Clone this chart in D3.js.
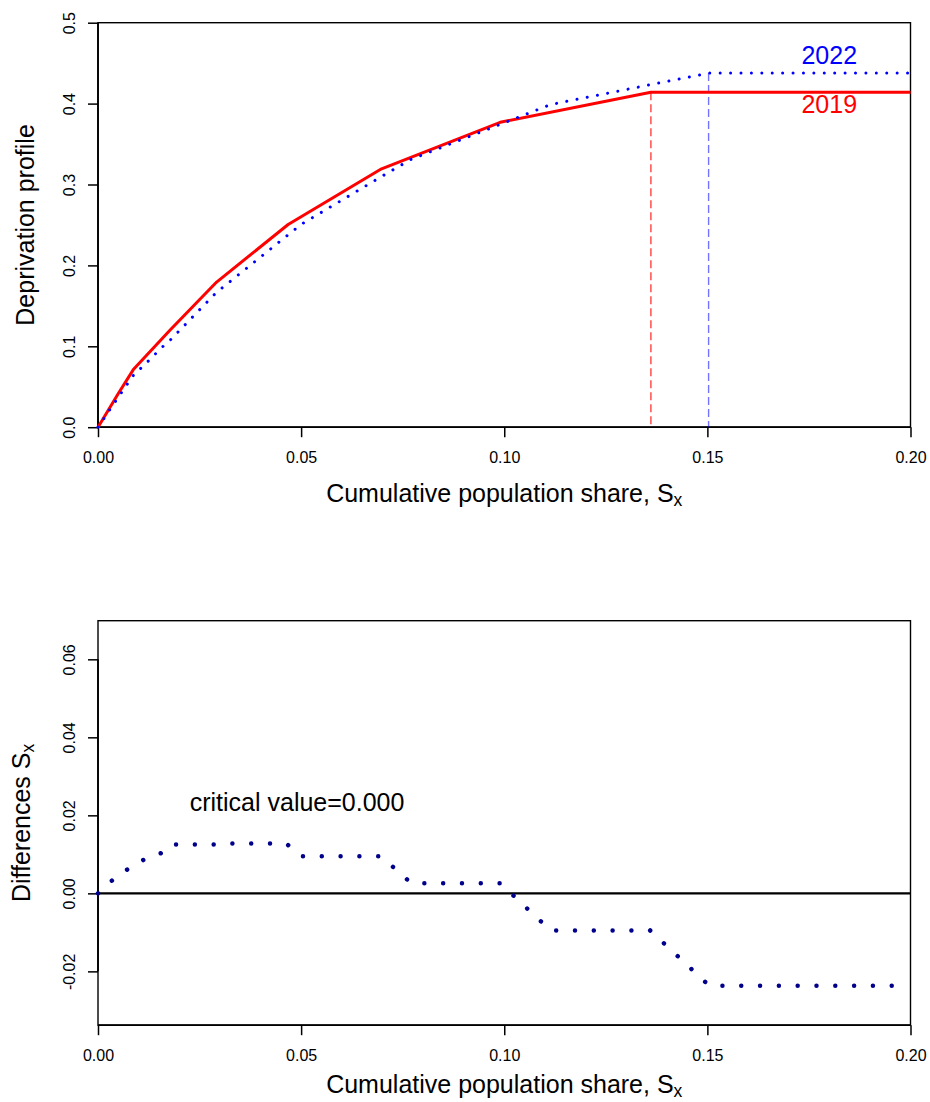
<!DOCTYPE html>
<html>
<head>
<meta charset="utf-8">
<script src="https://cdn.jsdelivr.net/npm/d3@7"></script>
<style>
  body { margin: 0; background: #fff; }
  svg { display: block; font-family: "Liberation Sans", Arial, sans-serif; }
</style>
</head>
<body>
<div id="chart"></div>
<script>
/*
** Data
*/
var share2019   = [0, 0.0050, 0.0087, 0.0177, 0.0292, 0.0468, 0.0698, 0.0990, 0.1361, 0.2000]
  , profile2019 = [0, 0.0416, 0.0712, 0.1198, 0.1794, 0.2506, 0.3194, 0.3769, 0.4140, 0.4140]
  , share2022   = [0, 0.0050, 0.0087, 0.0125, 0.0155, 0.0177, 0.0292, 0.0310, 0.0468, 0.0501
                 , 0.0698, 0.0771, 0.0990, 0.1114, 0.1361, 0.1505, 0.2000]
  , profile2022 = [0, 0.0371, 0.0640, 0.0824, 0.0976, 0.1073, 0.1669, 0.1739, 0.2378, 0.2510
                 , 0.3099, 0.3312, 0.3743, 0.3988, 0.4235, 0.4377, 0.4377]
  , diffShare   = [0, 0.0040, 0.0087, 0.0125, 0.0155, 0.0177, 0.0292, 0.0310, 0.0463, 0.0501
                 , 0.0697, 0.0771, 0.0990, 0.1114, 0.1359, 0.1505, 0.2000]
  , diffValue   = [0, 0.0038, 0.0072, 0.0093, 0.0103, 0.0125, 0.0125, 0.0128, 0.0128, 0.0095
                 , 0.0095, 0.0026, 0.0026, -0.0095, -0.0095, -0.0237, -0.0237]
  , headcount   = [0.1361, 0.1503] // 2019, 2022
  , years       = ["2019", "2022"]
  , xTicks      = [0, 0.05, 0.10, 0.15, 0.20]
  , profileTicks = [0, 0.1, 0.2, 0.3, 0.4, 0.5]
  , diffTicks   = [-0.02, 0, 0.02, 0.04, 0.06]
  , criticalValue = 0
;

/*
** Layout
*/
var width = 930
  , height = 1102
  , margin = { left: 98, right: 19.5 }
  , plotW = width - margin.left - margin.right
  , plotH = 404.5
  , panelTops = [22.7, 620.7]
  , font = { tick: 16, lab: 25, sub: 17.5 }
  , col = { r2019: "#ff0000", b2022: "#0000ff", diff: "#00008b" }
;

var svg = d3.select("#chart").append("svg")
    .attr("width", width)
    .attr("height", height)
;

var x = d3.scaleLinear().domain([0, 0.2]).range([0, plotW])
  , yProfile = d3.scaleLinear().domain([0, 0.5]).range([plotH, 0])
  , yDiff = d3.scaleLinear().domain([-0.0338, 0.0699]).range([plotH, 0])
;

/*
** Helpers
*/
function subscripted(sel, main, sub) {
    sel.append("tspan").text(main);
    sel.append("tspan")
        .attr("font-size", font.sub)
        .attr("dy", 4)
        .text(sub)
    ;
}

function frame(g, y, ticks, fmt, yTitle, yTitleSub, titleX, titleY) {
    g.append("rect")
        .attr("width", plotW)
        .attr("height", plotH)
        .attr("fill", "none")
        .attr("stroke", "#000")
        .attr("stroke-width", 1.4)
    ;
    var xa = g.append("g")
        .attr("transform", "translate(0," + plotH + ")")
        .call(d3.axisBottom(x)
            .tickValues(xTicks)
            .tickFormat(d3.format(".2f"))
            .tickSize(10)
            .tickSizeOuter(0)
            .tickPadding(14.6))
    ;
    var ya = g.append("g")
        .call(d3.axisLeft(y)
            .tickValues(ticks)
            .tickFormat(fmt)
            .tickSize(10)
            .tickSizeOuter(0))
    ;
    ya.selectAll(".tick text")
        .attr("x", null)
        .attr("dy", null)
        .attr("text-anchor", "middle")
        .attr("transform", "translate(-23,0) rotate(-90)")
    ;
    [xa, ya].forEach(function(a) {
        a.attr("font-size", font.tick).attr("font-family", null);
        a.select(".domain").remove();
        a.selectAll("line").attr("stroke-width", 1.5);
    });
    // axis line only runs between the outer ticks, like R does
    xa.append("line")
        .attr("x1", x(xTicks[0])).attr("x2", x(xTicks[xTicks.length - 1]))
        .attr("stroke", "#000").attr("stroke-width", 1.8)
    ;
    ya.append("line")
        .attr("y1", y(ticks[0])).attr("y2", y(ticks[ticks.length - 1]))
        .attr("stroke", "#000").attr("stroke-width", 1.8)
    ;

    g.append("text")
        .attr("transform", "translate(" + (plotW / 2) + "," + (plotH + titleY) + ")")
        .attr("text-anchor", "middle")
        .attr("font-size", font.lab)
        .call(subscripted, "Cumulative population share, S", "x")
    ;
    var t = g.append("text")
        .attr("transform", "translate(" + titleX + "," + (plotH / 2) + ") rotate(-90)")
        .attr("text-anchor", "middle")
        .attr("font-size", font.lab)
    ;
    if(yTitleSub) t.call(subscripted, yTitle, yTitleSub);
    else t.text(yTitle);
}

/*
** Upper panel: deprivation profiles
*/
var upper = svg.append("g")
    .attr("transform", "translate(" + margin.left + "," + panelTops[0] + ")")
;
frame(upper, yProfile, profileTicks, d3.format(".1f"), "Deprivation profile", null, -64, 74.7);

var lineP = d3.line()
    .x(function(d) { return x(d[0]); })
    .y(function(d) { return yProfile(d[1]); })
;
var profiles = [
      { year: years[0], pts: d3.zip(share2019, profile2019), h: headcount[0], color: col.r2019 }
    , { year: years[1], pts: d3.zip(share2022, profile2022), h: headcount[1], color: col.b2022 }
];

// dashed drop lines at the poverty headcount
profiles.forEach(function(p, i) {
    var level = p.pts[p.pts.length - 1][1];
    upper.append("line")
        .attr("x1", x(p.h)).attr("x2", x(p.h))
        .attr("y1", yProfile(level)).attr("y2", yProfile(0))
        .attr("stroke", p.color)
        .attr("stroke-opacity", i === 0 ? 0.75 : 0.55)
        .attr("stroke-width", 1.4)
        .attr("stroke-dasharray", "8,4")
    ;
});

upper.append("path")
    .datum(profiles[0].pts)
    .attr("d", lineP)
    .attr("fill", "none")
    .attr("stroke", col.r2019)
    .attr("stroke-width", 3)
    .attr("stroke-linejoin", "round")
;
upper.append("path")
    .datum(profiles[1].pts)
    .attr("d", lineP)
    .attr("fill", "none")
    .attr("stroke", col.b2022)
    .attr("stroke-width", 3)
    .attr("stroke-linecap", "round")
    .attr("stroke-dasharray", "0.01,10.4")
;

// year labels
[[years[1], 0.46, col.b2022], [years[0], 0.40, col.r2019]].forEach(function(l) {
    upper.append("text")
        .attr("x", x(0.18))
        .attr("y", yProfile(l[1]) + 9)
        .attr("text-anchor", "middle")
        .attr("font-size", font.lab)
        .attr("fill", l[2])
        .text(l[0])
    ;
});

/*
** Lower panel: differences
*/
var lower = svg.append("g")
    .attr("transform", "translate(" + margin.left + "," + panelTops[1] + ")")
;
frame(lower, yDiff, diffTicks, function(d) { return d.toFixed(2); }, "Differences S", "x", -68, 67.5);

lower.append("line")
    .attr("x1", x(0)).attr("x2", x(0.2))
    .attr("y1", yDiff(0)).attr("y2", yDiff(0))
    .attr("stroke", "#000")
    .attr("stroke-width", 2.3)
;
lower.append("path")
    .datum(d3.zip(diffShare, diffValue))
    .attr("d", d3.line()
        .x(function(d) { return x(d[0]); })
        .y(function(d) { return yDiff(d[1]); }))
    .attr("fill", "none")
    .attr("stroke", col.diff)
    .attr("stroke-width", 4.5)
    .attr("stroke-linecap", "round")
    .attr("stroke-dasharray", "0.01,18.8")
;
lower.append("text")
    .attr("x", x(0.049))
    .attr("y", yDiff(0.0235) + 9)
    .attr("text-anchor", "middle")
    .attr("font-size", font.lab)
    .text("critical value=" + d3.format(".3f")(criticalValue))
;
</script>
</body>
</html>
